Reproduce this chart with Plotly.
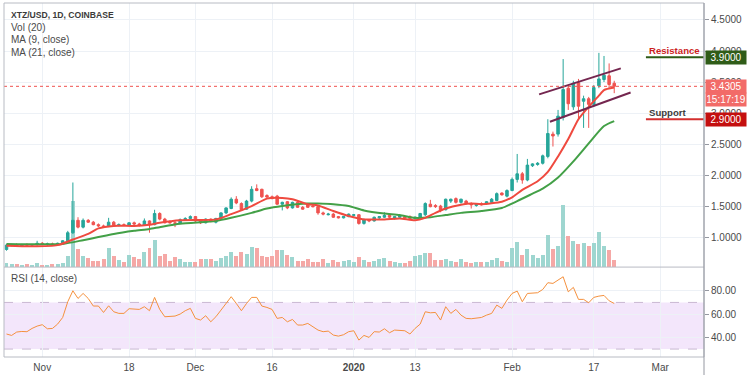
import pandas as pd
import plotly.graph_objects as go

# ---------------- data ----------------
dates = pd.date_range("2019-10-25", periods=120, freq="D")

opens = [0.80,0.87,0.87,0.85,0.88,0.87,0.88,0.90,0.88,0.89,
         0.88,0.90,0.94,1.07,1.27,1.16,1.27,1.24,1.20,1.18,
         1.17,1.24,1.19,1.20,1.19,1.23,1.21,1.19,1.26,1.20,
         1.38,1.29,1.24,1.23,1.22,1.27,1.30,1.33,1.26,1.23,
         1.29,1.24,1.30,1.39,1.46,1.61,1.54,1.45,1.58,1.78,
         1.77,1.67,1.65,1.66,1.53,1.57,1.47,1.56,1.48,1.53,
         1.50,1.49,1.39,1.36,1.37,1.33,1.31,1.33,1.35,1.36,
         1.22,1.28,1.26,1.31,1.32,1.35,1.30,1.32,1.33,1.33,
         1.30,1.32,1.36,1.53,1.51,1.50,1.44,1.58,1.62,1.56,
         1.58,1.54,1.51,1.54,1.54,1.56,1.59,1.71,1.66,1.75,
         1.93,2.02,1.92,2.15,2.17,2.19,2.30,2.66,2.66,2.93,
         3.40,3.10,3.49,3.19,3.23,3.14,3.44,3.54,3.60,3.48]
highs = [0.89,0.89,0.90,0.89,0.90,0.89,0.94,0.92,0.91,0.91,
         0.91,0.95,1.10,1.88,1.32,1.30,1.29,1.26,1.22,1.20,
         1.31,1.26,1.22,1.22,1.24,1.25,1.23,1.30,1.27,1.44,
         1.40,1.31,1.27,1.26,1.30,1.32,1.35,1.34,1.28,1.30,
         1.30,1.31,1.40,1.48,1.64,1.66,1.56,1.60,1.82,1.85,
         1.78,1.69,1.67,1.68,1.57,1.58,1.57,1.58,1.50,1.55,
         1.53,1.50,1.41,1.39,1.39,1.34,1.34,1.38,1.37,1.37,
         1.30,1.29,1.33,1.34,1.40,1.36,1.34,1.35,1.34,1.35,
         1.33,1.39,1.56,1.60,1.53,1.52,1.62,1.62,1.64,1.62,
         1.60,1.56,1.54,1.56,1.58,1.63,1.72,1.72,1.77,1.96,
         2.34,2.05,2.26,2.19,2.21,2.33,2.90,2.70,3.05,3.87,
         3.45,3.52,3.55,3.28,3.26,3.45,3.97,3.92,3.80,3.52]
lows = [0.78,0.85,0.84,0.84,0.86,0.85,0.86,0.87,0.86,0.87,
        0.87,0.89,0.92,1.05,1.14,1.14,1.23,1.19,1.16,1.15,
        1.16,1.18,1.17,1.18,1.18,1.19,1.17,1.18,1.07,1.19,
        1.27,1.22,1.22,1.16,1.21,1.26,1.29,1.24,1.21,1.22,
        1.24,1.22,1.29,1.37,1.45,1.53,1.42,1.44,1.56,1.74,
        1.63,1.63,1.61,1.52,1.43,1.45,1.46,1.47,1.44,1.47,
        1.48,1.36,1.35,1.35,1.31,1.30,1.30,1.32,1.33,1.20,
        1.20,1.24,1.25,1.29,1.31,1.30,1.28,1.31,1.30,1.29,
        1.28,1.31,1.34,1.48,1.47,1.40,1.43,1.55,1.54,1.54,
        1.52,1.46,1.49,1.51,1.52,1.55,1.58,1.67,1.64,1.74,
        1.88,1.86,1.90,2.13,2.15,2.17,2.27,2.46,2.62,2.88,
        3.05,3.05,2.90,2.76,2.76,3.10,3.40,3.50,3.40,3.32]
closes = [0.87,0.87,0.85,0.88,0.87,0.88,0.90,0.88,0.89,0.88,
          0.90,0.94,1.07,1.27,1.16,1.27,1.24,1.20,1.18,1.17,
          1.24,1.19,1.20,1.19,1.23,1.21,1.19,1.26,1.20,1.38,
          1.29,1.23,1.23,1.22,1.28,1.30,1.33,1.26,1.23,1.29,
          1.25,1.30,1.39,1.47,1.61,1.55,1.44,1.58,1.77,1.75,
          1.65,1.645,1.62,1.53,1.56,1.47,1.56,1.48,1.45,1.48,
          1.49,1.39,1.37,1.37,1.32,1.31,1.33,1.37,1.36,1.22,
          1.28,1.26,1.32,1.33,1.35,1.32,1.33,1.34,1.31,1.30,
          1.32,1.38,1.54,1.49,1.49,1.44,1.61,1.61,1.56,1.61,
          1.54,1.52,1.53,1.52,1.57,1.61,1.70,1.68,1.75,1.93,
          2.02,1.92,2.16,2.18,2.19,2.31,2.67,2.63,2.95,3.38,
          3.15,3.48,3.11,3.23,3.14,3.41,3.55,3.61,3.46,3.4305]

volume = [4,3,3,2,3,2,4,2,2,3,
          3,4,11,66,18,11,9,6,6,8,
          19,11,7,5,12,10,8,15,19,27,
          11,13,6,10,8,5,5,5,8,8,
          8,6,9,11,15,11,15,13,20,19,
          11,10,11,17,17,12,10,6,6,8,
          5,5,8,4,7,5,6,7,5,10,
          7,5,6,8,9,6,5,4,4,6,
          11,12,14,14,7,7,8,6,5,8,
          5,4,5,5,5,7,9,6,5,19,
          25,12,18,12,9,12,32,18,21,62,
          31,26,23,24,21,24,35,21,17,7]

rsi = [42.9,41.7,44.6,45.1,44.9,47.7,49.7,50.9,47.4,47.7,
       51.4,57.1,70.6,80,73.4,77.7,73.4,66.9,66.9,61.4,
       67.1,62,60.6,60.6,64.6,64.4,64,66.3,62.9,74.3,
       64,57.7,58,58.3,60,62.9,64.9,56.3,54.9,58.6,
       53.4,57.7,63.4,69.1,74.9,69.1,62.9,69.1,74.3,74.3,
       66.9,65.7,64,56.3,57.1,53.4,55.4,50.6,50.6,52,
       49.1,46.3,44.9,45.4,42,41.1,42.3,44.9,45.7,37.7,
       41.7,40,44.9,44.6,47.4,44,46.3,45.7,45.7,42.9,
       47.7,51.4,62,61.1,61.4,54.9,66.3,60.6,64,59.1,
       56.3,56,56.3,57.1,59.1,60.6,67.7,64.9,72,77.7,
       79.7,70.6,77.7,78.3,78.3,81.1,86.9,86.3,89.1,92,
       79.1,82.9,72.6,72.6,69.7,74.3,75.4,76,71.4,69.1]

ma9_day = [0,5,10,13,16,18,21,25,28,30,34,41,44,48,51,54,56,59,61,64,67,70,74,77,80,82,84,86,89,91,93,97,99,101,104,106,108,110,112,114,116,117,119]
ma9_val = [0.86,0.85,0.87,0.96,1.05,1.14,1.18,1.18,1.20,1.23,1.27,1.285,1.37,1.50,1.62,1.63,1.61,1.53,1.51,1.42,1.34,1.285,1.285,1.30,1.27,1.31,1.39,1.46,1.52,1.54,1.53,1.57,1.64,1.76,1.90,2.05,2.30,2.58,2.90,3.10,3.28,3.37,3.41]
ma21_day = [0,11,15,18,21,25,28,30,34,41,44,48,51,54,59,61,64,67,70,74,77,80,83,86,89,93,97,100,103,105,108,111,114,117,119]
ma21_val = [0.89,0.89,0.95,1.00,1.05,1.10,1.13,1.16,1.215,1.26,1.31,1.39,1.46,1.50,1.54,1.54,1.53,1.50,1.43,1.38,1.355,1.31,1.32,1.355,1.39,1.42,1.47,1.58,1.70,1.78,1.96,2.22,2.51,2.79,2.87]

channel_upper_x = ["2020-02-06 07:00", "2020-02-22 07:00"]
channel_upper_y = [3.30, 3.72]
channel_lower_x = ["2020-02-08 10:00", "2020-02-24 05:00"]
channel_lower_y = [2.86, 3.33]

resistance = 3.90
support = 2.90
last_price = 3.4305
countdown = "15:17:19"
level_start = "2020-02-27 05:00"

price_ticks = [1.0, 1.5, 2.0, 2.5, 3.0, 3.5, 4.0, 4.5]
rsi_ticks = [40, 60, 80]
time_ticks = ["2019-11-01", "2019-11-18", "2019-12-01", "2019-12-16", "2020-01-01",
              "2020-01-13", "2020-02-01", "2020-02-17", "2020-03-01"]
time_labels = ["Nov", "18", "Dec", "16", "<b>2020</b>", "13", "Feb", "17", "Mar"]

# ---------------- styling ----------------
UP = "#26a69a"
DN = "#ef5350"
VOL_UP = "#9ed6d0"
VOL_DN = "#f5a8a6"
GRID = "#edf1f6"
FRAME = "#b8bbc3"
TXT = "#4a4a4a"
FONT = "Liberation Sans"
X_RANGE = ["2019-10-24 12:15", "2020-03-09 13:55"]
MAIN_DOM = [0.254, 1.0]
RSI_DOM = [0.0, 0.254]

ma9_x = [dates[i] for i in ma9_day]
ma21_x = [dates[i] for i in ma21_day]
vol_colors = [VOL_UP if c >= o else VOL_DN for o, c in zip(opens, closes)]

fig = go.Figure()

fig.add_trace(go.Bar(x=dates, y=volume, marker=dict(color=vol_colors, line=dict(width=0)),
                     width=0.78 * 86400000, xaxis="x", yaxis="y", hoverinfo="skip"))

fig.add_trace(go.Candlestick(x=dates, open=opens, high=highs, low=lows, close=closes,
                             xaxis="x", yaxis="y3",
                             increasing=dict(line=dict(color=UP, width=1), fillcolor=UP),
                             decreasing=dict(line=dict(color=DN, width=1), fillcolor=DN),
                             whiskerwidth=0))

fig.add_trace(go.Scatter(x=ma21_x, y=ma21_val, mode="lines", xaxis="x", yaxis="y3",
                         line=dict(color="#43a047", width=2, shape="spline", smoothing=0.6)))
fig.add_trace(go.Scatter(x=ma9_x, y=ma9_val, mode="lines", xaxis="x", yaxis="y3",
                         line=dict(color="#ef4a3f", width=2, shape="spline", smoothing=0.6)))

for cx, cy in ((channel_upper_x, channel_upper_y), (channel_lower_x, channel_lower_y)):
    fig.add_trace(go.Scatter(x=cx, y=cy, mode="lines", xaxis="x", yaxis="y3",
                             line=dict(color="#74264f", width=2)))

fig.add_trace(go.Scatter(x=dates, y=rsi, mode="lines", xaxis="x2", yaxis="y2",
                         line=dict(color="#f5913e", width=1)))

shapes = [
    dict(type="rect", xref="x2 domain", x0=0, x1=1, yref="y2", y0=30, y1=70,
         fillcolor="#f3e6fb", line=dict(width=0), layer="below"),
    dict(type="line", xref="x2 domain", x0=0, x1=1, yref="y2", y0=70, y1=70,
         line=dict(color="#c9b8d2", width=1, dash="dash"), layer="below"),
    dict(type="line", xref="x2 domain", x0=0, x1=1, yref="y2", y0=30, y1=30,
         line=dict(color="#c9b8d2", width=1, dash="dash"), layer="below"),
    dict(type="line", xref="x domain", x0=0, x1=1, yref="y3", y0=last_price, y1=last_price,
         line=dict(color=DN, width=1, dash="dot")),
    dict(type="line", xref="x", x0=level_start, x1=X_RANGE[1], yref="y3", y0=resistance, y1=resistance,
         line=dict(color="#2e5b17", width=2)),
    dict(type="line", xref="x", x0=level_start, x1=X_RANGE[1], yref="y3", y0=support, y1=support,
         line=dict(color="#d32f2f", width=2)),
    dict(type="rect", xref="paper", yref="paper", x0=0, x1=1, y0=0, y1=1,
         line=dict(color=FRAME, width=1)),
    dict(type="line", xref="paper", yref="paper", x0=0, x1=1, y0=MAIN_DOM[0], y1=MAIN_DOM[0],
         line=dict(color=FRAME, width=1)),
    dict(type="line", xref="paper", yref="paper", x0=1, x1=1, y0=-0.06, y1=1,
         line=dict(color="#9598a1", width=1)),
]

ann_font = dict(family=FONT, size=10, color=TXT)
annotations = [
    dict(text="<b>XTZ/USD, 1D, COINBASE</b>", xref="paper", yref="paper", x=0, y=1,
         xanchor="left", yanchor="middle", xshift=5, yshift=-12, showarrow=False,
         font=dict(family=FONT, size=8.6, color="#3a3a3a")),
    dict(text="Vol (20)", xref="paper", yref="paper", x=0, y=1, xanchor="left", yanchor="middle",
         xshift=5, yshift=-24, showarrow=False, font=ann_font),
    dict(text="MA (9, close)", xref="paper", yref="paper", x=0, y=1, xanchor="left", yanchor="middle",
         xshift=5, yshift=-36.5, showarrow=False, font=ann_font),
    dict(text="MA (21, close)", xref="paper", yref="paper", x=0, y=1, xanchor="left", yanchor="middle",
         xshift=5, yshift=-49, showarrow=False, font=ann_font),
    dict(text="RSI (14, close)", xref="paper", yref="paper", x=0, y=RSI_DOM[1], xanchor="left",
         yanchor="middle", xshift=5, yshift=-11, showarrow=False, font=ann_font),
    dict(text="<b>Resistance</b>", xref="x", yref="y3", x=level_start, y=resistance,
         xanchor="left", yanchor="bottom", xshift=1, yshift=-1, showarrow=False,
         font=dict(family=FONT, size=9.6, color="#cc1f1f")),
    dict(text="<b>Support</b>", xref="x", yref="y3", x=level_start, y=support,
         xanchor="left", yanchor="bottom", xshift=1, yshift=-1, showarrow=False,
         font=dict(family=FONT, size=9.6, color="#3d3d3d")),
]


def price_box(val, text, bg, shift=0):
    return dict(text=text, xref="paper", yref="y3", x=1, y=val, xanchor="left", yanchor="middle",
                xshift=1, yshift=shift, showarrow=False, bgcolor=bg, borderpad=1,
                width=38, align="center", font=dict(family=FONT, size=10, color="#ffffff"))


annotations += [
    price_box(resistance, "%.4f" % resistance, "#2f5c18"),
    price_box(last_price, "%.4f" % last_price, "#f26b68"),
    price_box(last_price, countdown, "#f26b68", shift=-13),
    price_box(support, "%.4f" % support, "#c40f0f"),
]

fig.update_layout(
    width=750, height=375,
    margin=dict(l=4, r=46, t=3, b=18),
    paper_bgcolor="white", plot_bgcolor="white",
    showlegend=False,
    bargap=0,
    font=dict(family=FONT, size=10, color=TXT),
    shapes=shapes, annotations=annotations,
    xaxis=dict(domain=[0, 1], anchor="y", range=X_RANGE, type="date",
               tickvals=time_ticks, showticklabels=False, showgrid=True, gridcolor=GRID,
               gridwidth=1, zeroline=False, rangeslider=dict(visible=False), showline=False),
    xaxis2=dict(domain=[0, 1], anchor="y2", matches="x", range=X_RANGE, type="date",
                tickvals=time_ticks, ticktext=time_labels, showgrid=True, gridcolor=GRID,
                tickfont=dict(family=FONT, size=10, color=TXT), ticks="", zeroline=False,
                ticklabelstandoff=3,
                showline=False, rangeslider=dict(visible=False)),
    yaxis=dict(domain=MAIN_DOM, anchor="x", range=[0, 264], visible=False, fixedrange=True),
    yaxis3=dict(overlaying="y", anchor="x", side="right", range=[0.516, 4.774],
                tickvals=price_ticks, tickformat=".4f", ticks="outside", ticklen=4,
                tickcolor="#9598a1", showgrid=True, gridcolor=GRID, zeroline=False,
                tickfont=dict(family=FONT, size=10, color=TXT)),
    yaxis2=dict(domain=RSI_DOM, anchor="x2", side="right", range=[23.2, 100.3],
                tickvals=rsi_ticks, tickformat=".2f", ticks="outside", ticklen=4,
                tickcolor="#9598a1", showgrid=True, gridcolor=GRID, zeroline=False,
                tickfont=dict(family=FONT, size=10, color=TXT)),
)

fig.write_html("out.html", config={"displayModeBar": False},
               post_script="document.body.style.margin='0';document.body.style.overflow='hidden';")
